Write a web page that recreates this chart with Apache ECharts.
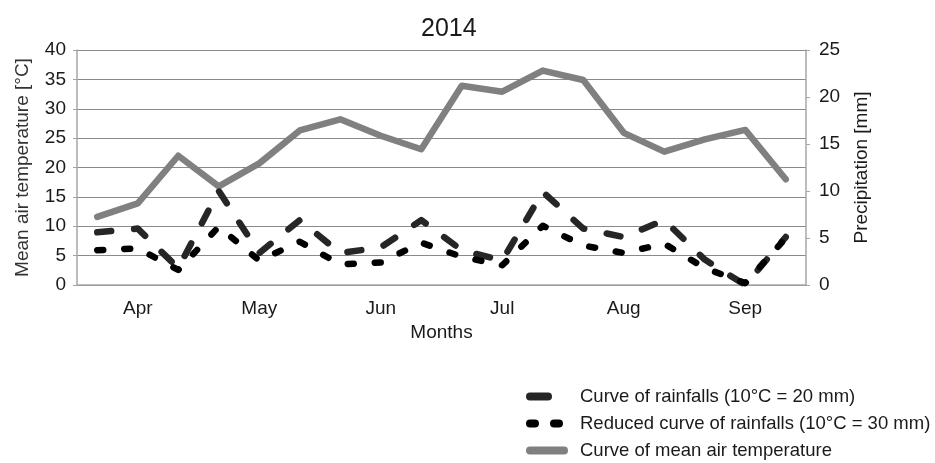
<!DOCTYPE html>
<html>
<head>
<meta charset="utf-8">
<script src="https://cdn.jsdelivr.net/npm/echarts@6.0.0/dist/echarts.min.js"></script>
<style>
  html, body { margin: 0; padding: 0; background: #fff; }
  #chart { width: 935px; height: 463px; }
</style>
</head>
<body>
<div id="chart"></div>
<script>
// months on the axis, three ten-day periods in each
var months = ['Apr', 'May', 'Jun', 'Jul', 'Aug', 'Sep']
var decades = ['Apr I', 'Apr II', 'Apr III', 'May I', 'May II', 'May III',
  'Jun I', 'Jun II', 'Jun III', 'Jul I', 'Jul II', 'Jul III',
  'Aug I', 'Aug II', 'Aug III', 'Sep I', 'Sep II', 'Sep III']

// mean air temperature [°C] (left axis)
var meanTemp = [11.6, 13.9, 22.0, 16.8, 20.7, 26.3, 28.2, 25.4, 23.1,
  33.9, 32.9, 36.5, 34.9, 25.9, 22.7, 24.8, 26.4, 18.0]
// rainfalls [mm] (right axis)
var rainfall = [5.6, 6.0, 1.8, 10.0, 3.4, 6.9, 3.4, 4.0, 6.9,
  3.7, 2.6, 9.9, 6.0, 5.1, 6.9, 2.7, 0.0, 5.1]
var reducedRain = [3.7, 3.9, 1.6, 6.2, 2.6, 4.6, 2.2, 2.4, 4.5,
  3.0, 2.1, 6.3, 4.2, 3.4, 4.4, 1.8, 0.2, 5.0]

var tempTicks = [0, 40, 5]
var rainTicks = [0, 25, 5]

var names = ['Curve of rainfalls (10°C = 20 mm)',
  'Reduced curve of rainfalls (10°C = 30 mm)',
  'Curve of mean air temperature']

var font = 'Liberation Sans, Arial, sans-serif'
var txt = '#1a1a1a'
var axisGray = '#a6a6a6'

// legend swatches, all in a 42x8 box (the M42,8 L42,8 keeps the box wide)
var iconDash = 'path://M4,0 H22 A4,4 0 0 1 22,8 H4 A4,4 0 0 1 4,0 Z M42,8 L42,8 M0,0 L0,0'
var iconDots = 'path://M4,0 H9 A4,4 0 0 1 9,8 H4 A4,4 0 0 1 4,0 Z M28,0 H33 A4,4 0 0 1 33,8 H28 A4,4 0 0 1 28,0 Z M42,8 L42,8 M0,0 L0,0'
var iconLine = 'path://M4,0 H38 A4,4 0 0 1 38,8 H4 A4,4 0 0 1 4,0 Z'

var myChart = echarts.init(document.getElementById('chart'))
myChart.setOption({
  animation: false,
  textStyle: { fontFamily: font, color: txt },
  title: {
    text: '2014',
    left: 421,
    top: 17,
    padding: 0,
    textStyle: { fontFamily: font, fontSize: 25, fontWeight: 'normal', color: txt }
  },
  grid: { left: 77, right: 129, top: 50, bottom: 178 },
  legend: {
    orient: 'vertical',
    left: 526,
    top: 387,
    padding: 0,
    itemWidth: 42,
    itemHeight: 8,
    itemGap: 8,
    itemStyle: { borderWidth: 0 },
    textStyle: { fontFamily: font, fontSize: 18.5, color: txt, lineHeight: 19, padding: [0, 0, 0, 7] },
    data: [
      { name: names[0], icon: iconDash, itemStyle: { color: '#262626' } },
      { name: names[1], icon: iconDots, itemStyle: { color: '#000' } },
      { name: names[2], icon: iconLine, itemStyle: { color: '#808080' } }
    ]
  },
  xAxis: [
    {
      type: 'category',
      data: months,
      boundaryGap: true,
      name: 'Months',
      nameLocation: 'middle',
      nameGap: 29,
      nameTextStyle: { fontFamily: font, fontSize: 19, color: txt },
      axisLine: { lineStyle: { color: axisGray, width: 1.5 } },
      axisTick: { length: 5, lineStyle: { color: axisGray } },
      axisLabel: { margin: 14, fontFamily: font, fontSize: 19, color: txt }
    },
    {
      type: 'category',
      data: decades,
      boundaryGap: true,
      show: false
    }
  ],
  yAxis: [
    {
      type: 'value',
      min: tempTicks[0],
      max: tempTicks[1],
      interval: tempTicks[2],
      name: 'Mean air temperature [°C]',
      nameLocation: 'middle',
      nameGap: 45,
      nameTextStyle: { fontFamily: font, fontSize: 19, color: '#333' },
      axisLine: { show: true, lineStyle: { color: axisGray, width: 1.5 } },
      axisTick: { show: true, length: 4, lineStyle: { color: axisGray } },
      axisLabel: { margin: 11, fontFamily: font, fontSize: 19, color: txt },
      splitLine: { show: true, lineStyle: { color: '#8a8a8a', width: 1.2 } }
    },
    {
      type: 'value',
      min: rainTicks[0],
      max: rainTicks[1],
      interval: rainTicks[2],
      name: 'Precipitation [mm]',
      nameLocation: 'middle',
      nameRotate: 90,
      nameGap: 46,
      nameTextStyle: { fontFamily: font, fontSize: 19, color: txt },
      axisLine: { show: true, lineStyle: { color: axisGray, width: 1.5 } },
      axisTick: { show: true, length: 4, lineStyle: { color: axisGray } },
      axisLabel: { margin: 13, fontFamily: font, fontSize: 19, color: txt },
      splitLine: { show: false }
    }
  ],
  series: [
    {
      name: names[2],
      type: 'line',
      xAxisIndex: 1,
      yAxisIndex: 0,
      data: meanTemp,
      symbol: 'none',
      itemStyle: { color: '#808080' },
      lineStyle: { color: '#808080', width: 6.5, cap: 'round', join: 'round' }
    },
    {
      name: names[0],
      type: 'line',
      xAxisIndex: 1,
      yAxisIndex: 1,
      data: rainfall,
      symbol: 'none',
      itemStyle: { color: '#262626' },
      lineStyle: { color: '#262626', width: 6.5, type: [14, 23], cap: 'round', join: 'round' }
    },
    {
      name: names[1],
      type: 'line',
      xAxisIndex: 1,
      yAxisIndex: 1,
      data: reducedRain,
      symbol: 'none',
      itemStyle: { color: '#000' },
      lineStyle: { color: '#000', width: 6.5, type: [6, 21], cap: 'round', join: 'round' }
    }
  ]
})
</script>
</body>
</html>
